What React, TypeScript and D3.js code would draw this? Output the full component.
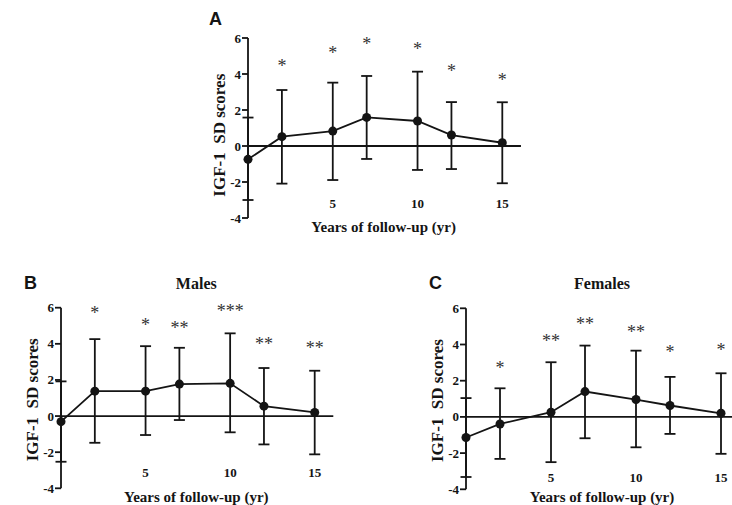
import React, { useRef, useEffect } from "react";
import * as d3 from "d3";

// follow-up years (x positions of the points)
const years = [0, 2, 5, 7, 10, 12, 15];
const xTickLabels = [5, 10, 15];
const yTicks = [6, 4, 2, 0, -2, -4];

// panel A: all patients
const allMean = [-0.74, 0.52, 0.83, 1.59, 1.39, 0.61, 0.18];
const allUpper = [1.58, 3.11, 3.52, 3.89, 4.13, 2.44, 2.43];
const allLower = [-3.0, -2.09, -1.89, -0.72, -1.33, -1.28, -2.07];
const allStars = ["", "*", "*", "*", "*", "*", "*"];
const allStarY = [0, 4.6, 5.33, 5.83, 5.56, 4.33, 3.83];

// panel B: males
const maleMean = [-0.31, 1.38, 1.38, 1.77, 1.81, 0.55, 0.2];
const maleUpper = [1.92, 4.26, 3.87, 3.78, 4.58, 2.66, 2.51];
const maleLower = [-2.53, -1.48, -1.05, -0.22, -0.9, -1.57, -2.12];
const maleStars = ["", "*", "*", "**", "***", "**", "**"];
const maleStarY = [0, 5.9, 5.22, 5.04, 5.96, 4.15, 3.93];

// panel C: females
const femaleMean = [-1.14, -0.39, 0.26, 1.4, 0.96, 0.63, 0.2];
const femaleUpper = [1.04, 1.58, 3.02, 3.94, 3.66, 2.21, 2.41];
const femaleLower = [-3.32, -2.32, -2.5, -1.18, -1.68, -0.94, -2.04];
const femaleStars = ["", "*", "**", "**", "**", "*", "*"];
const femaleStarY = [0, 2.84, 4.36, 5.32, 4.86, 3.76, 3.85];

const serif = "'Liberation Serif', 'Times New Roman', serif";
const sans = "'Liberation Sans', Arial, sans-serif";

type PanelDef = {
    letter: string;
    title: string;
    mean: number[];
    upper: number[];
    lower: number[];
    stars: string[];
    starY: number[];
    x0: number;
    x15: number;
    yTop: number;
    yBottom: number;
    letterX: number;
    letterY: number;
    tickLabelY: number;
    xTitleY: number;
    yTitleAt: number;
};

const panels: PanelDef[] = [
    { letter: "A", title: "", mean: allMean, upper: allUpper, lower: allLower, stars: allStars, starY: allStarY,
      x0: 248, x15: 502.3, yTop: 38, yBottom: 218, letterX: 209, letterY: 25, tickLabelY: 208, xTitleY: 232, yTitleAt: 0.6 },
    { letter: "B", title: "Males", mean: maleMean, upper: maleUpper, lower: maleLower, stars: maleStars, starY: maleStarY,
      x0: 61, x15: 314.7, yTop: 307.7, yBottom: 488.3, letterX: 24, letterY: 289, tickLabelY: 477, xTitleY: 502, yTitleAt: 0.9 },
    { letter: "C", title: "Females", mean: femaleMean, upper: femaleUpper, lower: femaleLower, stars: femaleStars, starY: femaleStarY,
      x0: 466, x15: 721, yTop: 308.3, yBottom: 489.3, letterX: 429, letterY: 289, tickLabelY: 482, xTitleY: 502, yTitleAt: 0.9 },
];

const drawPanel = (svg: d3.Selection<SVGSVGElement, unknown, null, undefined>, p: PanelDef) => {
    const xScale = d3.scaleLinear().domain([0, 15]).range([p.x0, p.x15]);
    const yScale = d3.scaleLinear().domain([6, -4]).range([p.yTop, p.yBottom]);
    const g = svg.append("g");
    const color = "#141414";
    const sw = 1.8;

    // panel letter
    g.append("text").attr("x", p.letterX).attr("y", p.letterY)
        .attr("font-family", sans).attr("font-weight", "bold").attr("font-size", 18)
        .attr("fill", color).text(p.letter);

    if (p.title) {
        g.append("text").attr("x", (xScale(0) + xScale(16)) / 2).attr("y", p.letterY)
            .attr("text-anchor", "middle")
            .attr("font-family", serif).attr("font-weight", "bold").attr("font-size", 16)
            .attr("fill", color).text(p.title);
    }

    // y axis
    g.append("line").attr("x1", p.x0).attr("x2", p.x0)
        .attr("y1", yScale(6)).attr("y2", yScale(-4))
        .attr("stroke", color).attr("stroke-width", sw);
    yTicks.forEach((t) => {
        g.append("line").attr("x1", p.x0 - 6).attr("x2", p.x0)
            .attr("y1", yScale(t)).attr("y2", yScale(t))
            .attr("stroke", color).attr("stroke-width", sw);
        g.append("text").attr("x", p.x0 - 7).attr("y", yScale(t) + 4.5)
            .attr("text-anchor", "end")
            .attr("font-family", serif).attr("font-weight", "bold").attr("font-size", 13)
            .attr("fill", color).text(t);
    });

    // y axis title
    g.append("text")
        .attr("transform", "translate(" + (p.x0 - 23) + "," + yScale(p.yTitleAt) + ") rotate(-90)")
        .attr("text-anchor", "middle")
        .style("white-space", "pre")
        .attr("font-family", serif).attr("font-weight", "bold").attr("font-size", 17)
        .attr("fill", color).text("IGF-1  SD scores");

    // zero line
    g.append("line").attr("x1", p.x0).attr("x2", xScale(16.1))
        .attr("y1", yScale(0)).attr("y2", yScale(0))
        .attr("stroke", color).attr("stroke-width", sw);

    // x tick labels
    xTickLabels.forEach((t) => {
        g.append("text").attr("x", xScale(t)).attr("y", p.tickLabelY)
            .attr("text-anchor", "middle")
            .attr("font-family", serif).attr("font-weight", "bold").attr("font-size", 13)
            .attr("fill", color).text(t);
    });

    // x axis title
    g.append("text").attr("x", (xScale(0) + xScale(16)) / 2).attr("y", p.xTitleY)
        .attr("text-anchor", "middle")
        .attr("font-family", serif).attr("font-weight", "bold").attr("font-size", 15)
        .attr("fill", color).text("Years of follow-up (yr)");

    // error bars
    const capHalf = 5.5;
    years.forEach((yr, i) => {
        const cx = xScale(yr);
        g.append("line").attr("x1", cx).attr("x2", cx)
            .attr("y1", yScale(p.upper[i])).attr("y2", yScale(p.lower[i]))
            .attr("stroke", color).attr("stroke-width", sw);
        [p.upper[i], p.lower[i]].forEach((v) => {
            g.append("line").attr("x1", cx - capHalf).attr("x2", cx + capHalf)
                .attr("y1", yScale(v)).attr("y2", yScale(v))
                .attr("stroke", color).attr("stroke-width", sw);
        });
    });

    // mean line
    const line = d3.line<number>()
        .x((d, i) => xScale(years[i]))
        .y((d) => yScale(d));
    g.append("path").datum(p.mean).attr("d", line)
        .attr("fill", "none").attr("stroke", color).attr("stroke-width", sw);

    g.selectAll("circle.pt")
        .data(p.mean)
        .enter().append("circle")
            .attr("cx", (d, i) => xScale(years[i]))
            .attr("cy", (d) => yScale(d))
            .attr("r", 4.5)
            .style("fill", color);

    // significance stars
    years.forEach((yr, i) => {
        if (!p.stars[i]) return;
        g.append("text").attr("x", xScale(yr)).attr("y", yScale(p.starY[i]) + 9)
            .attr("text-anchor", "middle")
            .attr("font-family", serif).attr("font-size", 18)
            .attr("fill", "#333").text(p.stars[i]);
    });
};

const App = () => {
    const canvas = useRef<SVGSVGElement>(null);

    useEffect(() => {
        const svg = d3.select(canvas.current);
        svg.selectAll("*").remove();
        panels.forEach((p) => drawPanel(svg as any, p));
    });

    return (
        <svg ref={canvas} width={732} height={505}
            style={{ position: "absolute", left: 0, top: 0, background: "#fff" }}></svg>
    );
};

export default App;
